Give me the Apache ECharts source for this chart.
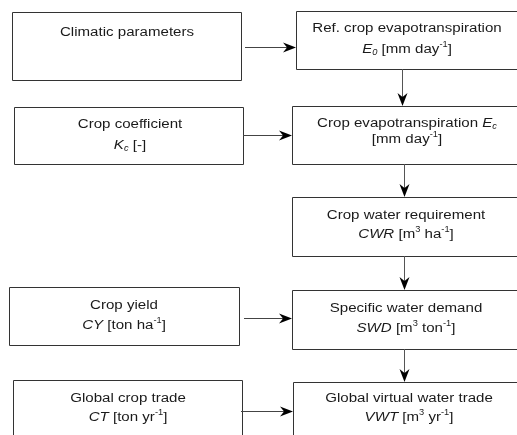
<!DOCTYPE html>
<html><head><meta charset="utf-8">
<script src="https://cdn.jsdelivr.net/npm/echarts@6/dist/echarts.min.js"></script>
<style>html,body{margin:0;padding:0;background:#fff}#c{width:517px;height:435px}</style>
</head><body><div id="c"></div>
<script>
// Node texts (rich-text markup), one array per node
const nodeClimatic = ['Climatic parameters'];
const nodeRefET = ['Ref. crop evapotranspiration', '{i|E}{sub|0} [mm day{sup|-1}]'];
const nodeKc = ['Crop coefficient', '{i|K}{sub|c} [-]'];
const nodeEc = ['Crop evapotranspiration {i|E}{sub|c}', '[mm day{sup|-1}]'];
const nodeCWR = ['Crop water requirement', '{i|CWR} [m{sup|3} ha{sup|-1}]'];
const nodeCY = ['Crop yield', '{i|CY} [ton ha{sup|-1}]'];
const nodeSWD = ['Specific water demand', '{i|SWD} [m{sup|3} ton{sup|-1}]'];
const nodeCT = ['Global crop trade', '{i|CT} [ton yr{sup|-1}]'];
const nodeVWT = ['Global virtual water trade', '{i|VWT} [m{sup|3} yr{sup|-1}]'];
const nodes = [nodeClimatic, nodeRefET, nodeKc, nodeEc, nodeCWR, nodeCY, nodeSWD, nodeCT, nodeVWT];
// Edges: [from, to]
const edges = [[0,1],[1,3],[2,3],[3,4],[4,6],[5,6],[6,8],[7,8]];

// Layout (positions/sizes)
const boxRects = [[12,12,229,68],[296,11,240,58],[14,107,229,57],[292,106,240,58],[292,197,240,59],[9,287,230,58],[292,290,240,59],[13,380,229,70],[293,382,240,70]];
const textCx = [127,407,130,407,406,124,406,128,409];
const textYs = [[32],[28,49],[124,145],[123,139],[215,234],[305,325],[308,328],[398,417],[398,417]];
const edgeGeom = {
  '0-1':['h',245,47,296], '2-3':['h',243,135,292], '5-6':['h',244,318,292], '7-8':['h',241,411,293],
  '1-3':['v',402,69,106], '3-4':['v',404,164,197], '4-6':['v',404,256,290], '6-8':['v',404,349,382]
};

const FONT = 'Liberation Sans, Arial, sans-serif';
const INK = '#1a1a1a';
const rich = {
  i: {fontStyle:'italic', fontSize:13, fontFamily:FONT, fill:INK, lineHeight:16},
  sub: {fontStyle:'italic', fontSize:8, fontFamily:FONT, fill:INK, verticalAlign:'bottom', lineHeight:8},
  sup: {fontSize:8, fontFamily:FONT, fill:INK, verticalAlign:'top', lineHeight:8}
};
const g = [];
nodes.forEach((lines, k) => {
  const r = boxRects[k];
  g.push({type:'rect', shape:{x:r[0]+0.5,y:r[1]+0.5,width:r[2],height:r[3]}, style:{fill:'#fff', stroke:'#333', lineWidth:1}});
  lines.forEach((t, j) => {
    g.push({type:'text', x:textCx[k], y:textYs[k][j], scaleX:1.16, scaleY:1.02,
      style:{text:t, x:0, y:0, align:'center', verticalAlign:'middle',
      fontSize:13, fontFamily:FONT, fill:INK, lineHeight:16, rich:rich}});
  });
});
edges.forEach(([a,b]) => {
  const e = edgeGeom[a+'-'+b];
  if (e[0]==='h') {
    const [_, x1, y, x2] = e;
    g.push({type:'line', shape:{x1:x1, y1:y+0.5, x2:x2-8, y2:y+0.5}, style:{stroke:'#444', lineWidth:1}});
    g.push({type:'polygon', shape:{points:[[x2,y+0.5],[x2-13,y-4.5],[x2-9,y+0.5],[x2-13,y+5.5]]}, style:{fill:'#000'}});
  } else {
    const [_, x, y1, y2] = e;
    g.push({type:'line', shape:{x1:x+0.5, y1:y1, x2:x+0.5, y2:y2-8}, style:{stroke:'#555', lineWidth:1}});
    g.push({type:'polygon', shape:{points:[[x+0.5,y2],[x-4.5,y2-13],[x+0.5,y2-9],[x+5.5,y2-13]]}, style:{fill:'#000'}});
  }
});
const chart = echarts.init(document.getElementById('c'));
chart.setOption({animation:false, graphic:{elements:g}});
</script></body></html>
